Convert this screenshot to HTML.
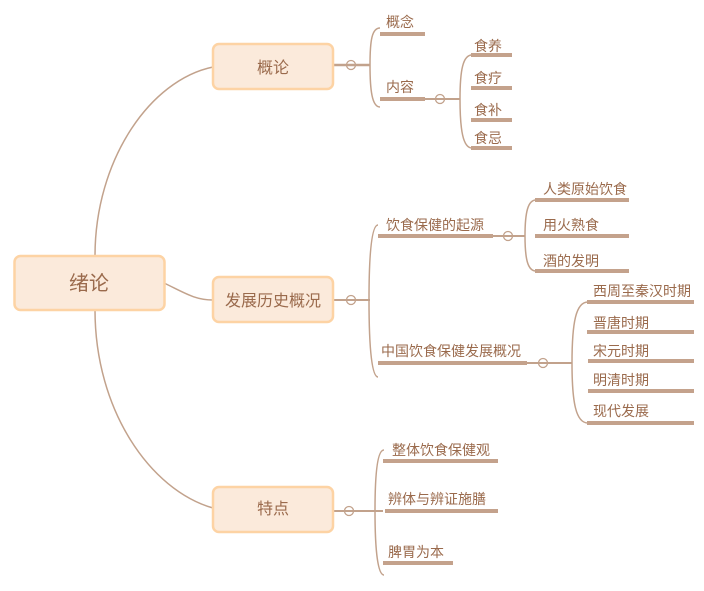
<!DOCTYPE html>
<html><head><meta charset="utf-8"><style>
html,body{margin:0;padding:0;background:#fff;}
svg{display:block;}
text{font-family:"Liberation Sans","Noto Sans CJK SC",sans-serif;fill:#9a6a4c;}
</style></head><body>
<svg width="704" height="591" viewBox="0 0 704 591" xmlns="http://www.w3.org/2000/svg">
<g fill="none" stroke="#c2a28c" stroke-width="1.5">
<path d="M95 256 C95 160 150 80 213 67"/>
<path d="M95 310 C95 410 150 490 213 508"/>
<path d="M164 283 C185 293 195 300 213 300"/>
<!-- 概论 -->
<path d="M333 65 L370 65" stroke-width="2.5"/>
<path d="M370 65 C370 40 372 28 380 28"/>
<path d="M370 65 C370 90 372 107 380 107"/>
<path d="M424 99 L460 99" stroke-width="2"/>
<path d="M460 99 C460 70 463 55 472 55"/>
<path d="M460 99 C460 130 463 148 472 148"/>
<!-- 发展 -->
<path d="M333 300 L370 300" stroke-width="2"/>
<path d="M369 300 C369 250 372 225 378 225"/>
<path d="M369 300 C369 350 372 377 378 377"/>
<path d="M492 236 L525 236" stroke-width="2"/>
<path d="M525 236 C525 212 528 200 536 200"/>
<path d="M525 236 C525 260 528 271 536 271"/>
<path d="M526 363 L572 363" stroke-width="2"/>
<path d="M572 363 C572 322 576 302 588 302"/>
<path d="M572 363 C572 403 576 423 588 423"/>
<!-- 特点 -->
<path d="M333 511 L383 511" stroke-width="2"/>
<path d="M375 511 C375 470 378 450 384 450"/>
<path d="M375 511 C375 552 378 575 384 575"/>
</g>
<g fill="none" stroke="#c2a28c" stroke-width="1.3">
<circle cx="351" cy="65" r="4.5"/>
<circle cx="440" cy="99" r="4.5"/>
<circle cx="351" cy="300" r="4.5"/>
<circle cx="508" cy="236" r="4.5"/>
<circle cx="543" cy="363" r="4.5"/>
<circle cx="349" cy="511" r="4.5"/>
</g>
<g fill="#c4a28c">
<rect x="380" y="32" width="45" height="4"/>
<rect x="380" y="97" width="45" height="4"/>
<rect x="471" y="53" width="41" height="4"/>
<rect x="471" y="86" width="41" height="4"/>
<rect x="471" y="118" width="41" height="4"/>
<rect x="471" y="146" width="41" height="4"/>
<rect x="378" y="234" width="115" height="4"/>
<rect x="378" y="361" width="149" height="4"/>
<rect x="535" y="198" width="94" height="4"/>
<rect x="535" y="234" width="94" height="4"/>
<rect x="535" y="269" width="94" height="4"/>
<rect x="587" y="300" width="107" height="4"/>
<rect x="587" y="330" width="107" height="4"/>
<rect x="588" y="359" width="106" height="4"/>
<rect x="588" y="389" width="106" height="4"/>
<rect x="587" y="421" width="107" height="4"/>
<rect x="383" y="459" width="115" height="4"/>
<rect x="385" y="509" width="113" height="4"/>
<rect x="383" y="561" width="70" height="4"/>
</g>
<g fill="#fbeadb" stroke="#fdd3a4" stroke-width="2.5">
<rect x="14.5" y="256" width="150" height="54" rx="6"/>
<rect x="213" y="44" width="120" height="45" rx="6"/>
<rect x="213" y="277" width="120" height="45" rx="6"/>
<rect x="213" y="487" width="120" height="45" rx="6"/>
</g>
<g text-anchor="middle">
<text x="89" y="290" font-size="20">绪论</text>
<text x="273" y="73" font-size="16">概论</text>
<text x="273" y="306" font-size="16">发展历史概况</text>
<text x="273" y="514" font-size="16">特点</text>
</g>
<g font-size="14">
<text x="386" y="27">概念</text>
<text x="386" y="92">内容</text>
<text x="474" y="51">食养</text>
<text x="474" y="83">食疗</text>
<text x="474" y="115">食补</text>
<text x="474" y="143">食忌</text>
<text x="386" y="230">饮食保健的起源</text>
<text x="381" y="356">中国饮食保健发展概况</text>
<text x="543" y="194">人类原始饮食</text>
<text x="543" y="230">用火熟食</text>
<text x="543" y="266">酒的发明</text>
<text x="593" y="296">西周至秦汉时期</text>
<text x="593" y="328">晋唐时期</text>
<text x="593" y="356">宋元时期</text>
<text x="593" y="385">明清时期</text>
<text x="593" y="416">现代发展</text>
<text x="392" y="455">整体饮食保健观</text>
<text x="388" y="504">辨体与辨证施膳</text>
<text x="388" y="557">脾胃为本</text>
</g>
</svg>
</body></html>
